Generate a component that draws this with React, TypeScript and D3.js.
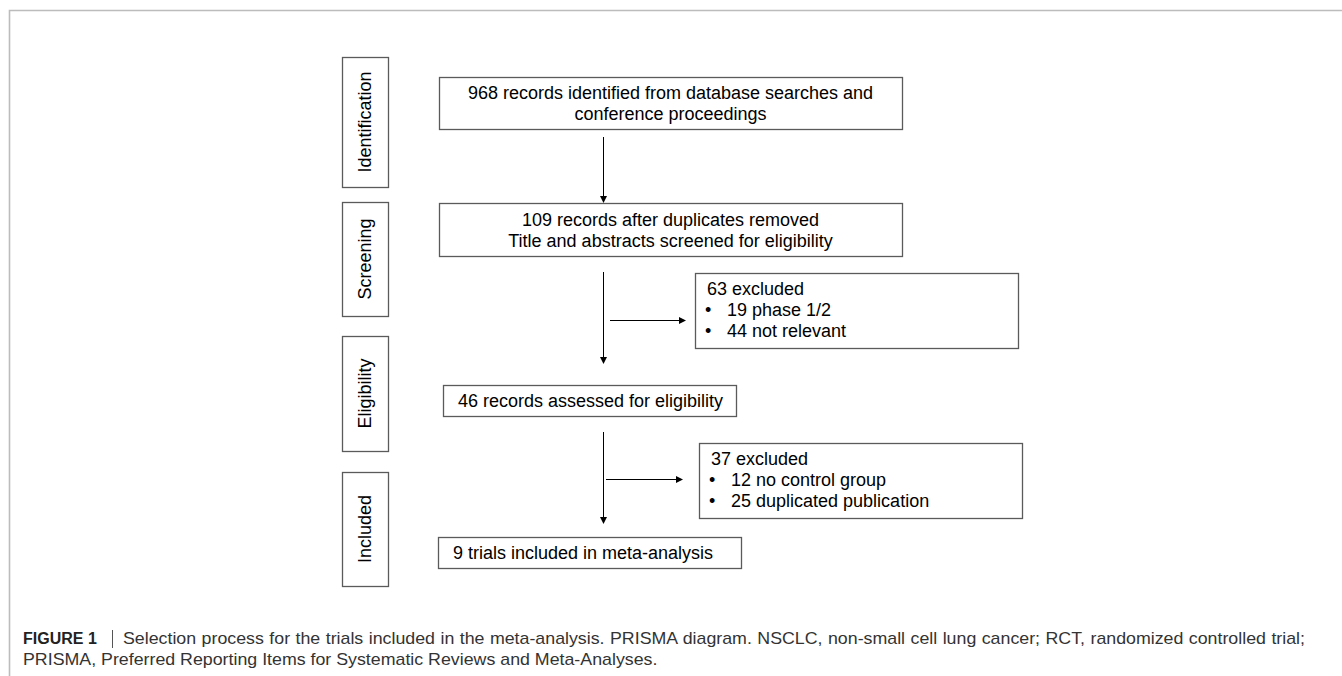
import React, { useEffect, useRef } from "react";
import * as d3 from "d3";

// stages on the left
const stages: string[] = ["Identification", "Screening", "Eligibility", "Included"];

// main flow boxes
const flowLines: string[][] = [
  ["968 records identified from database searches and", "conference proceedings"],
  ["109 records after duplicates removed", "Title and abstracts screened for eligibility"],
  ["46 records assessed for eligibility"],
  ["9 trials included in meta-analysis"],
];

// exclusion boxes
const excludedHeads: string[] = ["63 excluded", "37 excluded"];
const excludedItems: string[][] = [
  ["19 phase 1/2", "44 not relevant"],
  ["12 no control group", "25 duplicated publication"],
];

const captionBold = "FIGURE 1";
const captionLine1 =
  "Selection process for the trials included in the meta-analysis. PRISMA diagram. NSCLC, non-small cell lung cancer; RCT, randomized controlled trial;";
const captionLine2 = "PRISMA, Preferred Reporting Items for Systematic Reviews and Meta-Analyses.";

// layout (pixels)
const W = 1342;
const H = 676;
const stageBoxes = [
  { y0: 57, y1: 187 },
  { y0: 202, y1: 316 },
  { y0: 336, y1: 451 },
  { y0: 472, y1: 586 },
];
const flowBoxes = [
  { x0: 439, x1: 902, y0: 77, y1: 129, align: "middle" },
  { x0: 439, x1: 902, y0: 203, y1: 256, align: "middle" },
  { x0: 443, x1: 736, y0: 385, y1: 416, align: "start" },
  { x0: 438, x1: 741, y0: 537, y1: 568, align: "start" },
];
const exclBoxes = [
  { x0: 695, x1: 1018, y0: 273, y1: 348 },
  { x0: 699, x1: 1022, y0: 443, y1: 518 },
];
const vArrows = [
  { x: 603, y0: 137, y1: 203 },
  { x: 603, y0: 272, y1: 364 },
  { x: 603, y0: 432, y1: 524 },
];
const hArrows = [
  { y: 320, x0: 610, x1: 686 },
  { y: 479, x0: 606, x1: 683 },
];

const FONT = "'Liberation Sans', Arial, Helvetica, sans-serif";
const BOX = "#5a5a5a";
const LINE_H = 21;
const CAP_X = 123;
const CAP_END = 1305;
const CAP2_END = 658;

export default function App() {
  const capRef = useRef<SVGTextElement | null>(null);
  const cap2Ref = useRef<SVGTextElement | null>(null);
  const capGroupRef = useRef<SVGGElement | null>(null);

  useEffect(() => {
    document.body.style.margin = "0";
    const l1 = capRef.current;
    const l2 = cap2Ref.current;
    if (!l1 || !l2) return;
    // stretch the caption face so the last line ends where it does in the figure
    const sx = (CAP2_END - 23) / l2.getComputedTextLength();
    d3.select(capGroupRef.current).attr("transform", `scale(${sx},1)`);
    d3.select(l1).attr("x", CAP_X / sx);
    d3.select(l2).attr("x", 23 / sx);
    // justify the first line by adjusting the word gaps
    const natural = l1.getComputedTextLength();
    const target = (CAP_END - CAP_X) / sx;
    const gaps = captionLine1.split(" ").length - 1;
    d3.select(l1).attr("word-spacing", (target - natural) / gaps);
  }, []);

  const line = d3.line<[number, number]>();
  const stageX0 = 342;
  const stageX1 = 388;

  return (
    <svg width={W} height={H} style={{ display: "block", background: "#fff" }}>
      {/* frame */}
      <path d={`M9.5,${H} V10.5 H${W}`} fill="none" stroke="#bcbcbc" strokeWidth={1.6} />

      {/* stage boxes */}
      {stages.map((s, i) => {
        const b = stageBoxes[i];
        const cx = (stageX0 + stageX1) / 2;
        const cy = (b.y0 + b.y1) / 2;
        return (
          <g key={s}>
            <rect x={stageX0 + 0.5} y={b.y0 + 0.5} width={stageX1 - stageX0} height={b.y1 - b.y0}
              fill="#fff" stroke={BOX} strokeWidth={1.3} />
            <text transform={`translate(${cx + 6},${cy}) rotate(-90)`} textAnchor="middle"
              fontFamily={FONT} fontSize={18} fill="#000">{s}</text>
          </g>
        );
      })}

      {/* flow boxes */}
      {flowLines.map((lines, i) => {
        const b = flowBoxes[i];
        const cy = (b.y0 + b.y1) / 2;
        const first = cy + 6.5 - ((lines.length - 1) * LINE_H) / 2;
        const tx = b.align === "middle" ? (b.x0 + b.x1) / 2 : b.x0 + 15;
        return (
          <g key={i}>
            <rect x={b.x0 + 0.5} y={b.y0 + 0.5} width={b.x1 - b.x0} height={b.y1 - b.y0}
              fill="#fff" stroke={BOX} strokeWidth={1.3} />
            {lines.map((t, j) => (
              <text key={j} x={tx} y={first + j * LINE_H} textAnchor={b.align}
                fontFamily={FONT} fontSize={18} fill="#000">{t}</text>
            ))}
          </g>
        );
      })}

      {/* exclusion boxes */}
      {excludedHeads.map((h, i) => {
        const b = exclBoxes[i];
        return (
          <g key={h}>
            <rect x={b.x0 + 0.5} y={b.y0 + 0.5} width={b.x1 - b.x0} height={b.y1 - b.y0}
              fill="#fff" stroke={BOX} strokeWidth={1.3} />
            <text x={b.x0 + 12} y={b.y0 + 22} fontFamily={FONT} fontSize={18} fill="#000">{h}</text>
            {excludedItems[i].map((t, j) => (
              <g key={t}>
                <text x={b.x0 + 10} y={b.y0 + 22 + (j + 1) * LINE_H} fontFamily={FONT} fontSize={18} fill="#000">•</text>
                <text x={b.x0 + 32} y={b.y0 + 22 + (j + 1) * LINE_H} fontFamily={FONT} fontSize={18} fill="#000">{t}</text>
              </g>
            ))}
          </g>
        );
      })}

      {/* arrows */}
      {vArrows.map((a, i) => (
        <g key={"v" + i}>
          <path d={line([[a.x + 0.5, a.y0], [a.x + 0.5, a.y1 - 5]]) ?? ""} stroke="#000" strokeWidth={1} />
          <path d={`M${a.x + 0.5},${a.y1} L${a.x - 3},${a.y1 - 7} L${a.x + 4},${a.y1 - 7} Z`} fill="#000" />
        </g>
      ))}
      {hArrows.map((a, i) => (
        <g key={"h" + i}>
          <path d={line([[a.x0, a.y + 0.5], [a.x1 - 5, a.y + 0.5]]) ?? ""} stroke="#000" strokeWidth={1} />
          <path d={`M${a.x1},${a.y + 0.5} L${a.x1 - 7},${a.y - 3} L${a.x1 - 7},${a.y + 4} Z`} fill="#000" />
        </g>
      ))}

      {/* caption */}
      <text x={23} y={644} fontFamily={FONT} fontSize={16} fontWeight="bold" fill="#222">{captionBold}</text>
      <line x1={112.5} x2={112.5} y1={630} y2={648} stroke="#555" strokeWidth={1} />
      <g ref={capGroupRef}>
        <text ref={capRef} x={CAP_X} y={644} fontFamily={FONT} fontSize={16} fill="#333">{captionLine1}</text>
        <text ref={cap2Ref} x={23} y={665} fontFamily={FONT} fontSize={16} fill="#333">{captionLine2}</text>
      </g>
    </svg>
  );
}
